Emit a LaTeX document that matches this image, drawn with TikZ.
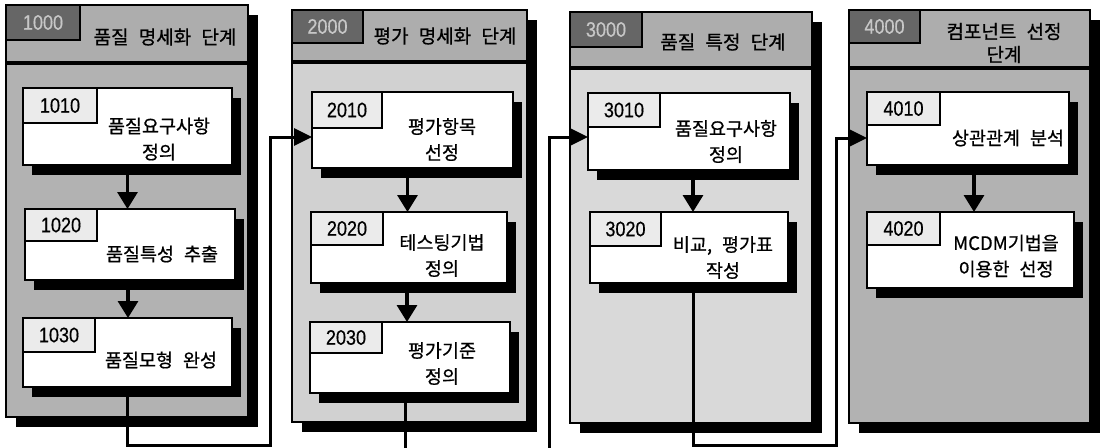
\documentclass[tikz,border=0pt]{standalone}
\usepackage{fontspec}
\newfontfamily\kr[WordSpace=2.4,FakeBold=0.7]{Noto Sans CJK KR}
\newfontfamily\numf[FakeStretch=0.86,FakeBold=0.4]{Liberation Sans}
\usetikzlibrary{arrows.meta,calc,shadows}
\begin{document}
\begin{tikzpicture}[x=1pt,y=-1pt,
  panel/.style={draw=black, line width=1.6pt, inner sep=0pt, outer sep=0pt,
    drop shadow={shadow xshift=10pt, shadow yshift=-10pt, fill=black, opacity=1}},
  hdr/.style={fill=black!32, inner sep=0pt, outer sep=0pt, anchor=north west},
  hlabel/.style={fill=black!60, draw=black, line width=1.2pt, inner sep=0pt, outer sep=0pt, anchor=north west,
    font=\numf\fontsize{21}{21}\selectfont, text=black!22},
  htitle/.style={font=\kr\fontsize{19}{23}\selectfont, align=center, inner sep=0pt},
  stepbox/.style={draw=black, fill=white, line width=1.8pt, inner sep=0pt, outer sep=0pt,
    drop shadow={shadow xshift=9pt, shadow yshift=-10pt, fill=black, opacity=1}},
  slabel/.style={draw=black, fill=black!8, line width=1.4pt, inner sep=0pt, outer sep=0pt, anchor=north west,
    font=\numf\fontsize{21}{21}\selectfont},
  btext/.style={font=\kr\fontsize{18.5}{26}\selectfont, align=center, inner sep=0pt},
  varrow/.style={line width=3.2pt, -{Triangle[width=20pt,length=17pt]}},
  conn/.style={line width=3pt, -{Triangle[width=17pt,length=18pt]}}
]
\useasboundingbox (0,0) rectangle (1102,447);
\clip (0,0) rectangle (1102,447);
\fill[white] (0,0) rectangle (1102,447);

% ---------- panels ----------
\node[panel, fill=black!30, minimum width=242, minimum height=412] (p1) at (127,211) {};
\node[panel, fill=black!18, minimum width=235, minimum height=412] (p2) at (409.5,216) {};
\node[panel, fill=black!15, minimum width=242, minimum height=411] (p3) at (691,217.5) {};
\node[panel, fill=black!30, minimum width=241, minimum height=413] (p4) at (969.5,216.5) {};

% headers
\node[hdr, minimum width=242, minimum height=58] (h1) at (p1.north west) {};
\node[hdr, minimum width=235, minimum height=52] (h2) at (p2.north west) {};
\node[hdr, minimum width=242, minimum height=56] (h3) at (p3.north west) {};
\node[hdr, minimum width=241, minimum height=58] (h4) at (p4.north west) {};
\foreach \h in {h1,h2,h3,h4}{
  \draw[line width=3.5pt] (\h.south west) -- (\h.south east);
}
\draw[line width=1.6pt] (p1.north west) rectangle (p1.south east);
\draw[line width=1.6pt] (p2.north west) rectangle (p2.south east);
\draw[line width=1.6pt] (p3.north west) rectangle (p3.south east);
\draw[line width=1.6pt] (p4.north west) rectangle (p4.south east);

\node[hlabel, minimum width=74, minimum height=35] (l1000) at (p1.north west) {1000};
\node[hlabel, minimum width=71, minimum height=33] (l2000) at (p2.north west) {2000};
\node[hlabel, minimum width=72, minimum height=35] (l3000) at (p3.north west) {3000};
\node[hlabel, minimum width=71, minimum height=33] (l4000) at (p4.north west) {4000};

\node[htitle] (t1000) at (165,37) {품질 명세화 단계};
\node[htitle] (t2000) at (445,36) {평가 명세화 단계};
\node[htitle] (t3000) at (723,42) {품질 특정 단계};
\node[htitle] (t4000) at (1004,43) {컴포넌트 선정\\단계};

% ---------- step boxes ----------
\node[stepbox, minimum width=209, minimum height=77] (b1010) at (127.5,126.5) {};
\node[stepbox, minimum width=210, minimum height=71] (b1020) at (130,244.5) {};
\node[stepbox, minimum width=209, minimum height=69] (b1030) at (127.5,352.5) {};
\node[stepbox, minimum width=201, minimum height=76] (b2010) at (412.5,130) {};
\node[stepbox, minimum width=196, minimum height=71] (b2020) at (409,247.5) {};
\node[stepbox, minimum width=200, minimum height=71] (b2030) at (410,357.5) {};
\node[stepbox, minimum width=202, minimum height=77] (b3010) at (689,131.5) {};
\node[stepbox, minimum width=198, minimum height=71] (b3020) at (689,247.5) {};
\node[stepbox, minimum width=202, minimum height=73] (b4010) at (968,128.5) {};
\node[stepbox, minimum width=207, minimum height=76] (b4020) at (970.5,250) {};

\node[slabel, minimum width=74, minimum height=35] (n1010) at (b1010.north west) {1010};
\node[slabel, minimum width=72, minimum height=32] (n1020) at (b1020.north west) {1020};
\node[slabel, minimum width=72, minimum height=34] (n1030) at (b1030.north west) {1030};
\node[slabel, minimum width=70, minimum height=36] (n2010) at (b2010.north west) {2010};
\node[slabel, minimum width=72, minimum height=33] (n2020) at (b2020.north west) {2020};
\node[slabel, minimum width=72, minimum height=31] (n2030) at (b2030.north west) {2030};
\node[slabel, minimum width=72, minimum height=34] (n3010) at (b3010.north west) {3010};
\node[slabel, minimum width=71, minimum height=34] (n3020) at (b3020.north west) {3020};
\node[slabel, minimum width=73, minimum height=33] (n4010) at (b4010.north west) {4010};
\node[slabel, minimum width=73, minimum height=33] (n4020) at (b4020.north west) {4020};

\node[btext] (x1010) at (159,139) {품질요구사항\\정의};
\node[btext] (x1020) at (162,254) {품질특성 추출};
\node[btext] (x1030) at (161,360) {품질모형 완성};
\node[btext] (x2010) at (442,139.5) {평가항목\\선정};
\node[btext] (x2020) at (442,255.5) {테스팅기법\\정의};
\node[btext] (x2030) at (442,363.5) {평가기준\\정의};
\node[btext] (x3010) at (726,141.5) {품질요구사항\\정의};
\node[btext] (x3020) at (723,257.5) {비교, 평가표\\작성};
\node[btext] (x4010) at (1008,138) {상관관계 분석};
\node[btext] (x4020) at (1006,256) {MCDM기법을\\이용한 선정};

% ---------- arrows inside panels ----------
\draw[varrow] (b1010.south) -- (b1010.south |- b1020.north);
\draw[varrow] ([xshift=-2pt]b1020.south) -- ([xshift=-2pt]b1020.south |- b1030.north);
\draw[varrow] ([xshift=-5pt]b2010.south) -- ([xshift=-5pt]b2010.south |- b2020.north);
\draw[varrow] ([xshift=-2pt]b2020.south) -- ([xshift=-2pt]b2020.south |- b2030.north);
\draw[varrow] ([xshift=4pt]b3010.south) -- ([xshift=4pt]b3010.south |- b3020.north);
\draw[varrow] ([xshift=6pt]b4010.south) -- ([xshift=6pt]b4010.south |- b4020.north);

% ---------- connectors between panels ----------
\coordinate (k12) at (270,445);
\coordinate (k23) at (549,455);
\coordinate (k34) at (836,445);
\draw[conn] (b1030.south) |- (k12) |- ([yshift=-7pt]b2010.west);
\draw[conn] ([xshift=-5pt]b2030.south) |- (k23) |- ([yshift=-5.5pt]b3010.west);
\draw[conn] ([xshift=4pt]b3020.south) |- (k34) |- ([yshift=-9.5pt]b4010.west);
\end{tikzpicture}
\end{document}
